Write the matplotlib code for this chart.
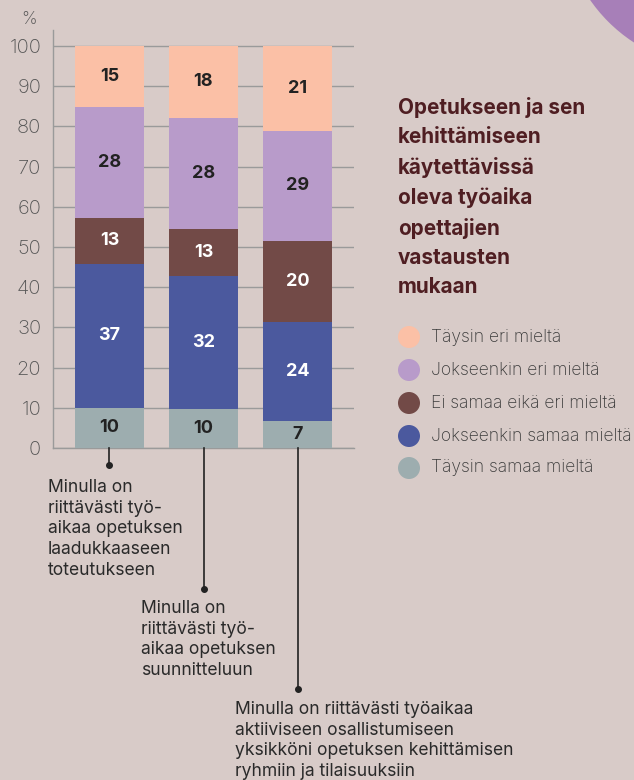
import matplotlib
matplotlib.use("Agg")
import matplotlib.pyplot as plt
from matplotlib.patches import Circle
import numpy as np

# segment heights (bottom -> top), and the printed labels
cats = ["Minulla on\nriittävästi työ-\naikaa opetuksen\nlaadukkaaseen\ntoteutukseen",
        "Minulla on\nriittävästi työ-\naikaa opetuksen\nsuunnitteluun",
        "Minulla on riittävästi työaikaa\naktiiviseen osallistumiseen\nyksikköni opetuksen kehittämisen\nryhmiin ja tilaisuuksiin"]
series = ["Täysin samaa mieltä", "Jokseenkin samaa mieltä", "Ei samaa eikä eri mieltä",
          "Jokseenkin eri mieltä", "Täysin eri mieltä"]
heights = [
    [10.0, 9.8, 6.8],
    [35.9, 33.1, 24.6],
    [11.4, 11.7, 20.2],
    [27.6, 27.6, 27.3],
    [15.1, 17.8, 21.1],
]
labels = [
    [10, 10, 7],
    [37, 32, 24],
    [13, 13, 20],
    [28, 28, 29],
    [15, 18, 21],
]
colors = ["#9dadaf", "#4b599e", "#724a47", "#b89bca", "#fbc0a6"]
label_colors = ["#222222", "#ffffff", "#ffffff", "#222222", "#222222"]
title = "Opetukseen ja sen\nkehittämiseen\nkäytettävissä\noleva työaika\nopettajien\nvastausten\nmukaan"

BG = "#d8cbc8"
FONT = ["Inter", "DejaVu Sans"]
plt.rcParams["font.family"] = FONT

fig = plt.figure(figsize=(6.34, 7.8), dpi=100, facecolor=BG)

# decorative circle in the top right corner, pixel coords
deco = fig.add_axes([0, 0, 1, 1])
deco.set_xlim(0, 634)
deco.set_ylim(780, 0)
deco.axis("off")
deco.add_patch(Circle((720, -90), 158, color="#a77fb8", lw=0))

ax = fig.add_axes([53 / 634, 332 / 780, 301 / 634, 418 / 780])
ax.set_facecolor("none")
x = np.arange(len(cats))
bottom = np.zeros(len(cats))
for h, lab, c, tc in zip(heights, labels, colors, label_colors):
    h = np.array(h)
    ax.bar(x, h, width=0.73, bottom=bottom, color=c, zorder=3)
    for xi, b, hh, l in zip(x, bottom, h, lab):
        ax.text(xi, b + hh / 2, str(l), ha="center", va="center", color=tc,
                fontsize=13, fontweight="bold", zorder=4)
    bottom = bottom + h

ax.set_xlim(-0.6, 2.6)
ax.set_ylim(0, 104)
ax.set_yticks(range(0, 101, 10))
ax.set_xticks([])
ax.tick_params(axis="y", length=0, pad=8.5, labelsize=14.5, labelcolor="#555555")
for t in ax.get_yticklabels():
    t.set_fontweight("light")
ax.grid(axis="y", color="#9a9a9a", lw=1, zorder=0)
for s in ["top", "right"]:
    ax.spines[s].set_visible(False)
for s in ["left", "bottom"]:
    ax.spines[s].set_color("#9a9a9a")
    ax.spines[s].set_linewidth(1)
deco.text(29, 20, "%", ha="center", va="center", fontsize=12.5, color="#555555", fontweight="light")

# leader lines from the bars down to the category labels
leader_ends = [-4.2, -35, -60]
text_pos = [(48, 479), (141, 600), (235, 701)]
for xi, yend, (tx, ty), cat in zip(x, leader_ends, text_pos, cats):
    ax.plot([xi, xi], [0, yend], color="#222222", lw=1.2, clip_on=False, zorder=5)
    ax.plot([xi], [yend], "o", color="#222222", ms=4, clip_on=False, zorder=5)
    deco.text(tx, ty, cat, ha="left", va="top", fontsize=12.6, color="#2a2a2a",
              linespacing=1.28)

# title and legend on the right
deco.text(398, 97, title, ha="left", va="top", fontsize=14.9, fontweight="bold",
          color="#4f1e22", linespacing=1.57)
leg_y = [337, 370, 403, 436, 468]
for yy, name, c in zip(leg_y, series[::-1], colors[::-1]):
    deco.add_patch(Circle((409, yy), 11, color=c, lw=0))
    deco.text(431, yy, name, ha="left", va="center", fontsize=12.6, color="#3a3a3a",
              fontweight="light")

fig.savefig("out.png", dpi=100, facecolor=BG)
